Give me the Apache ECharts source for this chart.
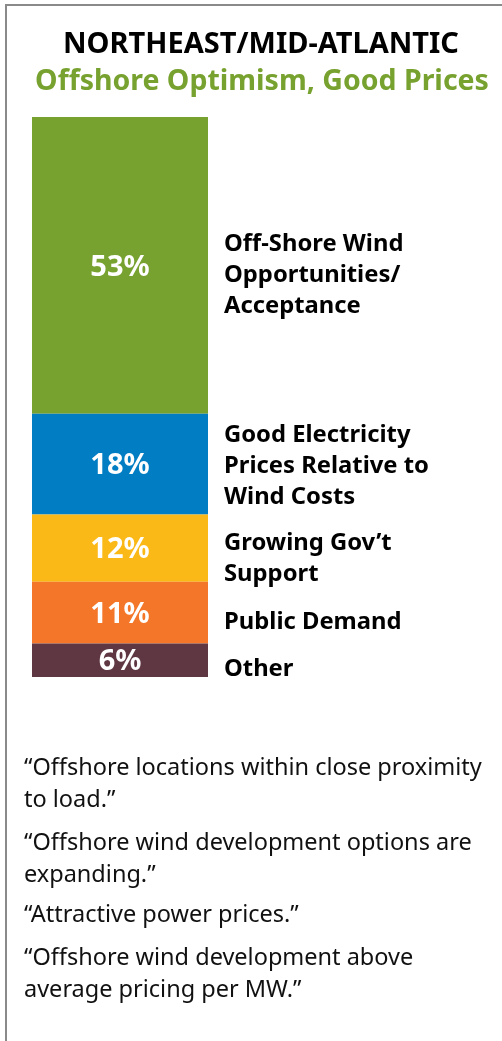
<!DOCTYPE html>
<html>
<head>
<meta charset="utf-8">
<script src="https://cdn.jsdelivr.net/npm/echarts@6/dist/echarts.min.js"></script>
<style>
html,body{margin:0;padding:0;background:#fff;}
#c{width:502px;height:1041px;}
</style>
</head>
<body>
<div id="c"></div>
<script>
const titleText = 'NORTHEAST/MID-ATLANTIC';
const subtitleText = 'Offshore Optimism, Good Prices';
const categories = [
  'Off-Shore Wind\nOpportunities/\nAcceptance',
  'Good Electricity\nPrices Relative to\nWind Costs',
  'Growing Gov\u2019t\nSupport',
  'Public Demand',
  'Other'
];
const values = [53, 18, 12, 11, 6];
const quotes = [
  '\u201cOffshore locations within close proximity\nto load.\u201d',
  '\u201cOffshore wind development options are\nexpanding.\u201d',
  '\u201cAttractive power prices.\u201d',
  '\u201cOffshore wind development above\naverage pricing per MW.\u201d'
];

const colors = ['#78A22F', '#007DC3', '#FBB917', '#F47729', '#5E3742'];
const labelOffsets = [10, 2, 11, 10, 9];
const FONT = 'Noto Sans';

const series = [];
values.forEach((v, i) => {
  series.push({
    type: 'bar', stack: 'a', name: categories[i],
    data: [v], barWidth: '100%', barGap: '-100%',
    itemStyle: { color: colors[i] },
    label: {
      show: true, position: 'inside', formatter: '{c}%', offset: [0, 2],
      color: '#fff', fontFamily: FONT, fontWeight: 'bold', fontSize: 29
    },
    silent: true
  });
});
values.forEach((v, i) => {
  series.push({
    type: 'bar', stack: 'b', name: categories[i] + ' label',
    data: [v], barWidth: '100%', barGap: '-100%',
    itemStyle: { color: 'transparent' },
    label: {
      show: true, position: 'right', distance: 16, offset: [0, labelOffsets[i]],
      formatter: () => categories[i],
      color: '#000', fontFamily: FONT, fontWeight: 'bold', fontSize: 23.8,
      lineHeight: 31, align: 'left'
    },
    silent: true
  });
});

const titles = [
  { text: titleText, left: 256, top: 22, textAlign: 'center',
    textStyle: { fontFamily: FONT, fontWeight: 'bold', fontSize: 29, lineHeight: 36, color: '#000' } },
  { text: subtitleText, left: 257, top: 59, textAlign: 'center',
    textStyle: { fontFamily: FONT, fontWeight: 'bold', fontSize: 28.5, lineHeight: 36, color: '#78A22F' } }
];
const quoteTops = [747, 822, 894, 937];
quotes.forEach((q, i) => {
  titles.push({ text: q, left: 19, top: quoteTops[i],
    textStyle: { fontFamily: FONT, fontWeight: 'normal', fontSize: 23.5, color: '#111', lineHeight: 32 } });
});

const chart = echarts.init(document.getElementById('c'), null, { renderer: 'canvas' });
chart.setOption({
  animation: false,
  backgroundColor: '#fff',
  title: titles,
  grid: { left: 32, top: 117, width: 176, bottom: 364, containLabel: false },
  xAxis: { type: 'category', data: ['NE'], show: false },
  yAxis: { type: 'value', min: 0, max: 100, inverse: true, show: false },
  series: series,
  graphic: [
    { type: 'polyline', shape: { points: [[6, 1041], [6, 5], [502, 5]] },
      style: { stroke: '#8a8a8a', lineWidth: 2, fill: null } }
  ]
});
</script>
</body>
</html>
